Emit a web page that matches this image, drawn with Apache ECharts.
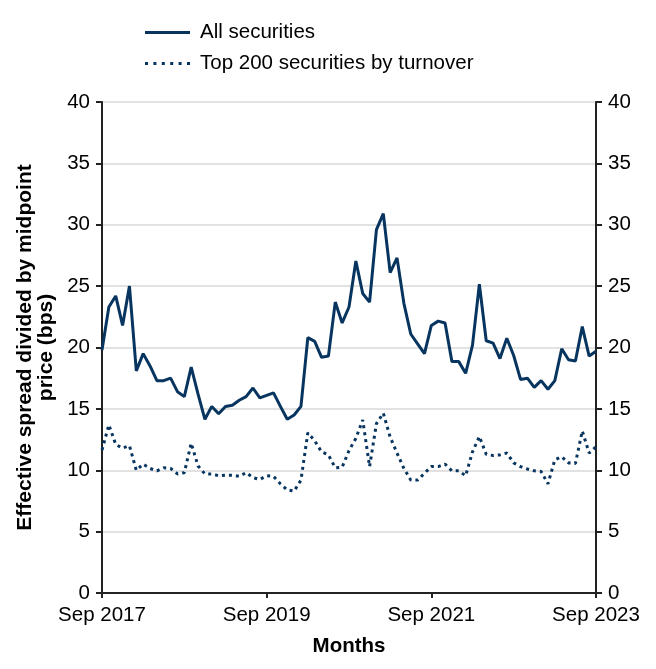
<!DOCTYPE html>
<html>
<head>
<meta charset="utf-8">
<script src="https://cdn.jsdelivr.net/npm/echarts@6/dist/echarts.min.js"></script>
<style>html,body{margin:0;padding:0;background:#fff;}#c{width:656px;height:669px;}</style>
</head>
<body>
<div id="c"></div>
<script>
const months = ["Sep 2017","Oct 2017","Nov 2017","Dec 2017","Jan 2018","Feb 2018","Mar 2018","Apr 2018","May 2018","Jun 2018","Jul 2018","Aug 2018",
"Sep 2018","Oct 2018","Nov 2018","Dec 2018","Jan 2019","Feb 2019","Mar 2019","Apr 2019","May 2019","Jun 2019","Jul 2019","Aug 2019",
"Sep 2019","Oct 2019","Nov 2019","Dec 2019","Jan 2020","Feb 2020","Mar 2020","Apr 2020","May 2020","Jun 2020","Jul 2020","Aug 2020",
"Sep 2020","Oct 2020","Nov 2020","Dec 2020","Jan 2021","Feb 2021","Mar 2021","Apr 2021","May 2021","Jun 2021","Jul 2021","Aug 2021",
"Sep 2021","Oct 2021","Nov 2021","Dec 2021","Jan 2022","Feb 2022","Mar 2022","Apr 2022","May 2022","Jun 2022","Jul 2022","Aug 2022",
"Sep 2022","Oct 2022","Nov 2022","Dec 2022","Jan 2023","Feb 2023","Mar 2023","Apr 2023","May 2023","Jun 2023","Jul 2023","Aug 2023",
"Sep 2023"];

const allSecurities = [19.8,23.3,24.2,21.8,25.0,18.1,19.5,18.5,17.3,17.3,17.5,16.4,
16.0,18.4,16.2,14.15,15.2,14.6,15.2,15.3,15.7,16.0,16.7,15.9,
16.1,16.3,15.2,14.15,14.5,15.2,20.8,20.5,19.2,19.3,23.7,22.0,
23.3,27.05,24.4,23.7,29.6,30.9,26.1,27.3,23.6,21.1,20.3,19.5,
21.8,22.15,22.0,18.85,18.85,17.9,20.2,25.15,20.55,20.35,19.1,20.75,
19.35,17.4,17.5,16.75,17.3,16.6,17.3,19.9,19.0,18.9,21.7,19.3,
19.7];

const top200 = [11.65,13.7,12.1,11.8,12.0,10.0,10.5,10.15,9.95,10.2,10.15,9.7,
9.8,12.2,10.35,9.7,9.7,9.55,9.6,9.6,9.5,9.8,9.4,9.25,
9.55,9.5,8.9,8.4,8.3,9.2,13.05,12.4,11.5,11.25,10.2,10.25,
11.6,12.6,14.1,10.3,13.8,14.65,12.7,11.4,10.15,9.2,9.2,9.75,
10.3,10.3,10.5,9.95,9.95,9.55,11.5,12.75,11.3,11.2,11.25,11.4,
10.6,10.3,10.1,9.95,9.9,8.9,10.85,11.1,10.6,10.55,13.2,11.4,
11.9];

const yTicks = [0,5,10,15,20,25,30,35,40];

const navy = '#08355f';
const font = 'Liberation Sans, Arial, sans-serif';

function yAxisCfg(pos, showSplit, name) {
  return {
    type: 'value', position: pos, min: yTicks[0], max: yTicks[yTicks.length-1], interval: 5,
    name: name, nameLocation: 'middle', nameGap: 44, nameRotate: 90,
    nameTextStyle: { fontFamily: font, fontSize: 21, fontWeight: 'bold', color: '#000', lineHeight: 21, align: 'center' },
    axisLine: { show: true, lineStyle: { color: '#222', width: 2 } },
    axisTick: { show: true, length: 6, lineStyle: { color: '#222', width: 2 } },
    axisLabel: { fontFamily: font, fontSize: 20.5, color: '#000', margin: 12 },
    splitLine: { show: showSplit, lineStyle: { color: '#d9d9d9', width: 1.5 } }
  };
}

const chart = echarts.init(document.getElementById('c'), null, { renderer: 'canvas' });
chart.setOption({
  animation: false,
  backgroundColor: '#fff',
  grid: { left: 102, right: 60, top: 102, bottom: 76, containLabel: false },
  legend: {
    orient: 'vertical', left: 140, top: 17, itemWidth: 45, itemHeight: 3, itemGap: 10,
    textStyle: { fontFamily: font, fontSize: 20.5, color: '#000', padding: [0,0,0,5] },
    data: [
      { name: 'All securities', icon: 'path://M0,0 L45,0 L45,3 L0,3 Z' },
      { name: 'Top 200 securities by turnover', icon: 'path://M0,0h3v3h-3z M8.4,0h3v3h-3z M16.8,0h3v3h-3z M25.2,0h3v3h-3z M33.6,0h3v3h-3z M42,0h3v3h-3z' }
    ]
  },
  xAxis: {
    type: 'category', data: months, boundaryGap: false,
    name: 'Months', nameLocation: 'middle', nameGap: 43,
    nameTextStyle: { fontFamily: font, fontSize: 20.5, fontWeight: 'bold', color: '#000' },
    axisLine: { lineStyle: { color: '#222', width: 2 } },
    axisTick: { show: true, interval: 23, length: 5, lineStyle: { color: '#222', width: 2 } },
    axisLabel: { interval: 23, fontFamily: font, fontSize: 20.5, color: '#000', margin: 12, showMaxLabel: true, showMinLabel: true },
    splitLine: { show: false }
  },
  yAxis: [
    yAxisCfg('left', true, 'Effective spread divided by midpoint\nprice (bps)'),
    yAxisCfg('right', false, '')
  ],
  series: [
    {
      name: 'All securities', type: 'line', data: allSecurities, yAxisIndex: 0,
      showSymbol: false, symbol: 'none', color: navy,
      lineStyle: { color: navy, width: 3 }
    },
    {
      name: 'Top 200 securities by turnover', type: 'line', data: top200, yAxisIndex: 0,
      showSymbol: false, symbol: 'none', color: navy,
      lineStyle: { color: navy, width: 3, type: [3, 4] }
    }
  ]
});
</script>
</body>
</html>
